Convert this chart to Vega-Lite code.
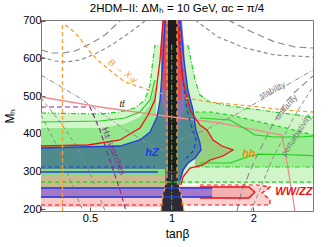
{
 "$schema": "https://vega.github.io/schema/vega-lite/v6.json",
 "width": 272, "height": 191,
 "autosize": {"type": "none"},
 "padding": {"left": 41, "top": 20, "right": 19, "bottom": 36},
 "background": "white",
 "title": {"text": "2HDM–II: ΔMₕ = 10 GeV, αc = π/4", "fontSize": 11.5, "font": "Liberation Sans", "fontWeight": "normal", "offset": 0, "anchor": "middle", "color": "black"},
 "config": {
  "view": {"stroke": "#7a7a7a", "strokeWidth": 1},
  "axis": {"grid": false, "domain": false, "labelFont": "Liberation Sans", "labelFontSize": 11, "labelColor": "black", "labelOverlap": false, "titleFont": "Liberation Sans", "titleFontSize": 12, "titleFontWeight": "normal", "titleColor": "black", "tickColor": "#555", "tickSize": -4, "labelPadding": 4}
 },
 "datasets": {"d": [
  {"g":"lg","t":0.330,"hi":455.1,"lo":269.3},{"g":"lg","t":0.544,"hi":452.5,"lo":269.3},{"g":"lg","t":0.645,"hi":457.8,"lo":269.3},{"g":"lg","t":0.732,"hi":468.4,"lo":269.3},{"g":"lg","t":0.797,"hi":489.6,"lo":269.3},{"g":"lg","t":0.832,"hi":529.5,"lo":269.3},{"g":"lg","t":0.853,"hi":595.8,"lo":269.3},{"g":"lg","t":0.868,"hi":635.6,"lo":269.3},{"g":"lg","t":1.148,"hi":635.6,"lo":269.3},{"g":"lg","t":1.178,"hi":595.8,"lo":269.3},{"g":"lg","t":1.219,"hi":542.7,"lo":269.3},{"g":"lg","t":1.271,"hi":502.9,"lo":269.3},{"g":"lg","t":1.384,"hi":484.3,"lo":269.3},{"g":"lg","t":1.640,"hi":473.7,"lo":269.3},{"g":"lg","t":2.113,"hi":463.1,"lo":269.3},{"g":"lg","t":2.727,"hi":452.5,"lo":269.3},{"g":"lg","t":3.317,"hi":444.5,"lo":269.3},
  {"g":"mgL","t":0.330,"hi":415.3,"lo":300},{"g":"mgL","t":0.544,"hi":415.3,"lo":300},{"g":"mgL","t":0.673,"hi":426,"lo":300},{"g":"mgL","t":0.764,"hi":444.5,"lo":300},{"g":"mgL","t":0.832,"hi":476.4,"lo":300},{"g":"mgL","t":0.875,"hi":529.5,"lo":300},
  {"g":"mgR","t":1.219,"hi":457.8,"lo":311.8},{"g":"mgR","t":1.384,"hi":457.8,"lo":311.8},{"g":"mgR","t":1.640,"hi":449.8,"lo":311.8},{"g":"mgR","t":2.113,"hi":431.2,"lo":311.8},{"g":"mgR","t":2.727,"hi":412.7,"lo":311.8},{"g":"mgR","t":3.317,"hi":396.7,"lo":311.8},
  {"g":"ol","t":1.219,"hi":436.5,"lo":314.4},{"g":"ol","t":1.271,"hi":423.3,"lo":314.4},{"g":"ol","t":1.349,"hi":410,"lo":322.4},{"g":"ol","t":1.420,"hi":383.5,"lo":327.7},{"g":"ol","t":1.532,"hi":367.5,"lo":338.3},{"g":"ol","t":1.682,"hi":356.9,"lo":356.9},
  {"g":"teal","t":0.330,"hi":362.2,"lo":306.5},{"g":"teal","t":0.645,"hi":367.5,"lo":306.5},{"g":"teal","t":0.764,"hi":383.5,"lo":306.5},{"g":"teal","t":0.832,"hi":404.7,"lo":306.5},{"g":"teal","t":0.883,"hi":444.5,"lo":306.5},{"g":"teal","t":0.906,"hi":489.6,"lo":298.5},{"g":"teal","t":0.929,"hi":595.8,"lo":264},{"g":"teal","t":0.945,"hi":702,"lo":264},{"g":"teal","t":1.073,"hi":702,"lo":264},{"g":"teal","t":1.082,"hi":649,"lo":277.3},{"g":"teal","t":1.110,"hi":595.8,"lo":303.8},{"g":"teal","t":1.148,"hi":516.2,"lo":319.8},{"g":"teal","t":1.198,"hi":463.1,"lo":330.4},{"g":"teal","t":1.229,"hi":410,"lo":335.7},{"g":"teal","t":1.271,"hi":375.5,"lo":351.6},{"g":"teal","t":1.282,"hi":356.9,"lo":356.9},
  {"g":"gs","t":0.330,"hi":306.5,"lo":287.9},{"g":"gs","t":0.945,"hi":306.5,"lo":287.9},
  {"g":"tan","t":0.330,"hi":287.9,"lo":258.7},{"g":"tan","t":0.945,"hi":287.9,"lo":258.7},
  {"g":"pinkL","t":0.330,"hi":229.5,"lo":205.6},{"g":"pinkL","t":1.073,"hi":229.5,"lo":205.6},
  {"g":"pur","t":0.330,"hi":258.7,"lo":229.5},{"g":"pur","t":1.41,"hi":258.7,"lo":229.5},
  {"g":"pinkR","m":262,"tl":1.073,"tr":2.302},{"g":"pinkR","m":251,"tl":1.073,"tr":2.302},{"g":"pinkR","m":243,"tl":1.073,"tr":2.15},{"g":"pinkR","m":230,"tl":1.073,"tr":2.302},{"g":"pinkR","m":210.9,"tl":1.073,"tr":2.302},
  {"g":"dpink","m":258.7,"tl":1.073,"tr":1.925},{"g":"dpink","m":245.4,"tl":1.073,"tr":2.026},{"g":"dpink","m":229.5,"tl":1.073,"tr":1.925},
  {"g":"fun","m":702,"tl":0.929,"tr":1.091},{"g":"fun","m":635.6,"tl":0.913,"tr":1.110},{"g":"fun","m":569.3,"tl":0.913,"tr":1.119},{"g":"fun","m":489.6,"tl":0.921,"tr":1.119},{"g":"fun","m":436.5,"tl":0.945,"tr":1.082},{"g":"fun","m":410,"tl":0.961,"tr":1.055},
  {"g":"redL","m":702,"tl":0.929,"tr":0.961},{"g":"redL","m":595.8,"tl":0.921,"tr":0.961},{"g":"redL","m":516.2,"tl":0.929,"tr":0.969},
  {"g":"redR","m":702,"tl":1.046,"tr":1.082},{"g":"redR","m":595.8,"tl":1.046,"tr":1.091},{"g":"redR","m":489.6,"tl":1.046,"tr":1.091},
  {"g":"blk","m":702,"tl":0.969,"tr":1.046},{"g":"blk","m":300,"tl":0.969,"tr":1.046},
  {"g":"dtrap","m":300,"tl":0.969,"tr":1.046},{"g":"dtrap","m":277,"tl":0.953,"tr":1.055},{"g":"dtrap","m":237.5,"tl":0.929,"tr":1.082},{"g":"dtrap","m":195,"tl":0.913,"tr":1.110},

  {"g":"ga1","o":1,"t":0.330,"m":622.4},{"g":"ga1","o":2,"t":0.362,"m":614.4},{"g":"ga1","o":3,"t":0.398,"m":614.4},{"g":"ga1","o":4,"t":0.440,"m":619.7},{"g":"ga1","o":5,"t":0.5,"m":638.3},{"g":"ga1","o":6,"t":0.568,"m":662.2},{"g":"ga1","o":7,"t":0.651,"m":702},
  {"g":"ga2","o":1,"t":0.330,"m":603.8},{"g":"ga2","o":2,"t":0.372,"m":593.2},{"g":"ga2","o":3,"t":0.408,"m":590.5},{"g":"ga2","o":4,"t":0.459,"m":595.8},{"g":"ga2","o":5,"t":0.522,"m":611.7},{"g":"ga2","o":6,"t":0.592,"m":633},{"g":"ga2","o":7,"t":0.673,"m":659.5},{"g":"ga2","o":8,"t":0.764,"m":688.7},{"g":"ga2","o":9,"t":0.804,"m":702},
  {"g":"gb1","o":1,"t":1.612,"m":702},{"g":"gb1","o":2,"t":1.976,"m":670.1},{"g":"gb1","o":3,"t":2.401,"m":643.6},{"g":"gb1","o":4,"t":2.845,"m":630.3},{"g":"gb1","o":5,"t":3.317,"m":627.7},
  {"g":"gb2","o":1,"t":1.219,"m":702},{"g":"gb2","o":2,"t":1.481,"m":656.9},{"g":"gb2","o":3,"t":1.862,"m":627.7},{"g":"gb2","o":4,"t":2.401,"m":609.1},{"g":"gb2","o":5,"t":3.317,"m":603.8},
  {"g":"gs1","o":1,"t":1.073,"m":383.5},{"g":"gs1","o":2,"t":1.327,"m":410},{"g":"gs1","o":3,"t":1.711,"m":449.8},{"g":"gs1","o":4,"t":2.401,"m":510.9},{"g":"gs1","o":5,"t":3.317,"m":569.3},
  {"g":"gs2","o":1,"t":0.330,"m":556},{"g":"gs2","o":2,"t":0.459,"m":494.9},{"g":"gs2","o":3,"t":0.651,"m":418},{"g":"gs2","o":4,"t":0.832,"m":370.2},{"g":"gs2","o":5,"t":0.969,"m":351.6},
  {"g":"gl1","o":1,"t":0.330,"m":494.9},{"g":"gl1","o":2,"t":0.388,"m":431.2},{"g":"gl1","o":3,"t":0.451,"m":362.2},{"g":"gl1","o":4,"t":0.513,"m":277.3},{"g":"gl1","o":5,"t":0.568,"m":195},
  {"g":"gl2","o":1,"t":0.330,"m":449.8},{"g":"gl2","o":2,"t":0.381,"m":362.2},{"g":"gl2","o":3,"t":0.422,"m":277.3},{"g":"gl2","o":4,"t":0.471,"m":195},
  {"g":"gu","o":1,"t":1.741,"m":195},{"g":"gu","o":2,"t":1.816,"m":250.7},{"g":"gu","o":3,"t":2.026,"m":330.4},{"g":"gu","o":4,"t":2.302,"m":410},{"g":"gu","o":5,"t":2.613,"m":481.7},{"g":"gu","o":6,"t":2.845,"m":510.9},{"g":"gu","o":7,"t":3.317,"m":553.3},
  {"g":"gp","o":1,"t":1.958,"m":195},{"g":"gp","o":2,"t":2.150,"m":264},{"g":"gp","o":3,"t":2.341,"m":330.4},{"g":"gp","o":4,"t":2.613,"m":396.7},{"g":"gp","o":5,"t":2.845,"m":449.8},{"g":"gp","o":6,"t":3.317,"m":524.1},
  {"g":"ov","o":1,"t":0.396,"m":688.7},{"g":"ov","o":2,"t":0.396,"m":195},
  {"g":"obl","o":1,"t":0.405,"m":688.7},{"g":"obl","o":2,"t":0.429,"m":675.5},{"g":"obl","o":3,"t":0.459,"m":654.2},{"g":"obl","o":4,"t":0.5,"m":617.1},{"g":"obl","o":5,"t":0.544,"m":590.5},{"g":"obl","o":6,"t":0.603,"m":563.9},{"g":"obl","o":7,"t":0.673,"m":537.4},{"g":"obl","o":8,"t":0.764,"m":524.1},{"g":"obl","o":9,"t":0.868,"m":510.9},{"g":"obl","o":10,"t":0.969,"m":502.9},
  {"g":"obr","o":1,"t":1.119,"m":494.9},{"g":"obr","o":2,"t":1.384,"m":484.3},{"g":"obr","o":3,"t":1.942,"m":473.7},{"g":"obr","o":4,"t":2.613,"m":463.1},{"g":"obr","o":5,"t":3.317,"m":457.8},
  {"g":"of1","o":1,"t":0.961,"m":702},{"g":"of1","o":2,"t":0.961,"m":277.3},{"g":"of1","o":3,"t":0.929,"m":237.5},{"g":"of1","o":4,"t":0.913,"m":195},
  {"g":"of2","o":1,"t":1.046,"m":702},{"g":"of2","o":2,"t":1.046,"m":277.3},{"g":"of2","o":3,"t":1.082,"m":237.5},{"g":"of2","o":4,"t":1.110,"m":195},
  {"g":"ph","o":1,"t":0.330,"m":471.1},{"g":"ph","o":2,"t":0.5,"m":471.1},{"g":"ph","o":3,"t":0.544,"m":410},{"g":"ph","o":4,"t":0.592,"m":330.4},{"g":"ph","o":5,"t":0.645,"m":250.7},{"g":"ph","o":6,"t":0.679,"m":195},
  {"g":"sal","o":1,"t":0.330,"m":497.6},{"g":"sal","o":2,"t":0.544,"m":471.1},{"g":"sal","o":3,"t":0.832,"m":452.5},{"g":"sal","o":4,"t":1.073,"m":441.9},{"g":"sal","o":5,"t":1.507,"m":428.6},{"g":"sal","o":6,"t":2.548,"m":396.7},{"g":"sal","o":7,"t":2.613,"m":356.9},{"g":"sal","o":8,"t":2.727,"m":277.3},{"g":"sal","o":9,"t":2.845,"m":195},
  {"g":"rl","o":1,"t":0.330,"m":367.5},{"g":"rl","o":2,"t":0.492,"m":370.2},{"g":"rl","o":3,"t":0.645,"m":383.5},{"g":"rl","o":4,"t":0.764,"m":415.3},{"g":"rl","o":5,"t":0.818,"m":449.8},{"g":"rl","o":6,"t":0.868,"m":489.6},{"g":"rl","o":7,"t":0.906,"m":595.8},{"g":"rl","o":8,"t":0.929,"m":702},
  {"g":"rr","o":1,"t":1.046,"m":702},{"g":"rr","o":2,"t":1.100,"m":542.7},{"g":"rr","o":3,"t":1.168,"m":463.1},{"g":"rr","o":4,"t":1.271,"m":423.3},{"g":"rr","o":5,"t":1.349,"m":410},{"g":"rr","o":6,"t":1.420,"m":383.5},{"g":"rr","o":7,"t":1.532,"m":367.5},{"g":"rr","o":8,"t":1.682,"m":356.9},{"g":"rr","o":9,"t":1.545,"m":341},{"g":"rr","o":10,"t":1.384,"m":330.4},{"g":"rr","o":11,"t":1.304,"m":317.1},{"g":"rr","o":12,"t":1.168,"m":309.1},{"g":"rr","o":13,"t":1.100,"m":285.2},{"g":"rr","o":14,"t":1.082,"m":264},
  {"g":"rdb","o":1,"t":0.330,"m":210.9},{"g":"rdb","o":2,"t":0.945,"m":210.9},
  {"g":"rdr","o":1,"t":1.073,"m":210.9},{"g":"rdr","o":2,"t":2.302,"m":210.9},{"g":"rdr","o":3,"t":2.302,"m":224.2},{"g":"rdr","o":4,"t":2.150,"m":242.8},{"g":"rdr","o":5,"t":2.302,"m":258.7},{"g":"rdr","o":6,"t":2.078,"m":264},{"g":"rdr","o":7,"t":1.271,"m":264},
  {"g":"rsp","o":1,"t":1.271,"m":258.7},{"g":"rsp","o":2,"t":1.925,"m":258.7},{"g":"rsp","o":3,"t":2.026,"m":245.4},{"g":"rsp","o":4,"t":1.925,"m":229.5},{"g":"rsp","o":5,"t":1.271,"m":229.5},
  {"g":"br","o":1,"t":1.073,"m":702},{"g":"br","o":2,"t":1.110,"m":595.8},{"g":"br","o":3,"t":1.148,"m":516.2},{"g":"br","o":4,"t":1.198,"m":463.1},{"g":"br","o":5,"t":1.229,"m":410},{"g":"br","o":6,"t":1.271,"m":375.5},{"g":"br","o":7,"t":1.282,"m":356.9},{"g":"br","o":8,"t":1.219,"m":335.7},{"g":"br","o":9,"t":1.148,"m":322.4},{"g":"br","o":10,"t":1.100,"m":303.8},{"g":"br","o":11,"t":1.073,"m":277.3},
  {"g":"bl","o":1,"t":0.330,"m":362.2},{"g":"bl","o":2,"t":0.645,"m":367.5},{"g":"bl","o":3,"t":0.764,"m":383.5},{"g":"bl","o":4,"t":0.832,"m":404.7},{"g":"bl","o":5,"t":0.883,"m":444.5},{"g":"bl","o":6,"t":0.906,"m":489.6},{"g":"bl","o":7,"t":0.929,"m":595.8},{"g":"bl","o":8,"t":0.945,"m":702},
  {"g":"bdr","o":1,"t":1.064,"m":702},{"g":"bdr","o":2,"t":1.082,"m":595.8},{"g":"bdr","o":3,"t":1.110,"m":516.2},{"g":"bdr","o":4,"t":1.139,"m":463.1},{"g":"bdr","o":5,"t":1.188,"m":415.3},{"g":"bdr","o":6,"t":1.229,"m":383.5},{"g":"bdr","o":7,"t":1.208,"m":356.9},{"g":"bdr","o":8,"t":1.168,"m":343.6},{"g":"bdr","o":9,"t":1.110,"m":330.4},
  {"g":"bb1","o":1,"t":0.330,"m":298.5},{"g":"bb1","o":2,"t":0.890,"m":298.5},
  {"g":"bb2","o":1,"t":0.330,"m":311.8},{"g":"bb2","o":2,"t":0.868,"m":311.8},
  {"g":"bb3","o":1,"t":0.330,"m":256},{"g":"bb3","o":2,"t":1.41,"m":256},
  {"g":"bb4","o":1,"t":0.330,"m":232.2},{"g":"bb4","o":2,"t":1.41,"m":232.2},
  {"g":"gd1","o":1,"t":0.330,"m":271.9},{"g":"gd1","o":2,"t":3.317,"m":271.9},
  {"g":"gd2L","o":1,"t":0.330,"m":455.1},{"g":"gd2L","o":2,"t":0.544,"m":452.5},{"g":"gd2L","o":3,"t":0.645,"m":457.8},{"g":"gd2L","o":4,"t":0.732,"m":468.4},{"g":"gd2L","o":5,"t":0.797,"m":489.6},{"g":"gd2L","o":6,"t":0.832,"m":529.5},{"g":"gd2L","o":7,"t":0.853,"m":595.8},{"g":"gd2L","o":8,"t":0.868,"m":635.6},
  {"g":"gd2R","o":1,"t":1.148,"m":635.6},{"g":"gd2R","o":2,"t":1.178,"m":595.8},{"g":"gd2R","o":3,"t":1.219,"m":542.7},{"g":"gd2R","o":4,"t":1.271,"m":502.9},{"g":"gd2R","o":5,"t":1.384,"m":484.3},{"g":"gd2R","o":6,"t":1.640,"m":473.7},{"g":"gd2R","o":7,"t":2.113,"m":463.1},{"g":"gd2R","o":8,"t":2.727,"m":452.5},{"g":"gd2R","o":9,"t":3.317,"m":444.5},
  {"g":"gd3","o":1,"t":0.330,"m":431.2},{"g":"gd3","o":2,"t":0.544,"m":433.9},{"g":"gd3","o":3,"t":0.673,"m":441.9},{"g":"gd3","o":4,"t":0.764,"m":457.8},{"g":"gd3","o":5,"t":0.832,"m":489.6},{"g":"gd3","o":6,"t":0.868,"m":542.7},
  {"g":"gd4","o":1,"t":1.219,"m":457.8},{"g":"gd4","o":2,"t":1.384,"m":457.8},{"g":"gd4","o":3,"t":1.640,"m":449.8},{"g":"gd4","o":4,"t":2.113,"m":431.2},{"g":"gd4","o":5,"t":2.727,"m":412.7},{"g":"gd4","o":6,"t":3.317,"m":396.7},
  {"g":"gd5","o":1,"t":1.219,"m":311.8},{"g":"gd5","o":2,"t":3.317,"m":311.8},
  {"g":"gd6","o":1,"t":1.271,"m":441.9},{"g":"gd6","o":2,"t":1.640,"m":436.5},{"g":"gd6","o":3,"t":1.897,"m":410},{"g":"gd6","o":4,"t":2.026,"m":396.7},{"g":"gd6","o":5,"t":2.401,"m":391.4},{"g":"gd6","o":6,"t":2.969,"m":391.4},{"g":"gd6","o":7,"t":3.317,"m":394},
  {"g":"gd7","o":1,"t":1.271,"m":322.4},{"g":"gd7","o":2,"t":1.640,"m":322.4},{"g":"gd7","o":3,"t":1.925,"m":340},{"g":"gd7","o":4,"t":2.113,"m":346},{"g":"gd7","o":5,"t":2.548,"m":345},{"g":"gd7","o":6,"t":3.317,"m":342},
  {"g":"gc","o":1,"t":1.0,"m":636},{"g":"gc","o":2,"t":1.0,"m":195},

  {"g":"lab","k":"bxs","t":0.661,"m":566.6,"label":"B → Xₛγ"},
  {"g":"lab","k":"tt","t":0.656,"m":479,"label":"tt̄"},
  {"g":"lab","k":"hpm","t":0.613,"m":354,"label":"H± searches"},
  {"g":"lab","k":"hz","t":0.846,"m":349,"label":"hZ"},
  {"g":"lab","k":"hh","t":1.925,"m":346,"label":"hh"},
  {"g":"lab","k":"ww","t":2.82,"m":245,"label":"WW/ZZ"},
  {"g":"lab","k":"stab","t":2.341,"m":516.2,"label":"stability"},
  {"g":"lab","k":"uni","t":2.635,"m":471.1,"label":"unitarity"},
  {"g":"lab","k":"pert","t":2.869,"m":396.7,"label":"perturbativity"}
 ]},
 "data": {"name": "d"},
 "layer": [
  {"transform":[{"filter":"datum.g=='lg'"}],"mark":{"type":"area","color":"#cff5c8","opacity":1,"clip":true},
   "encoding":{
    "x":{"field":"t","type":"quantitative","scale":{"type":"log","domain":[0.33,3.317],"nice":false},"axis":{"values":[0.5,1,2],"format":"~g","title":"tanβ","titlePadding":5,"labelPadding":5,"labelOverlap":false}},
    "y":{"field":"hi","type":"quantitative","scale":{"domain":[195,702],"nice":false,"zero":false},"axis":{"values":[200,300,400,500,600,700],"tickCount":6,"labelOverlap":false,"title":"Mₕ","titlePadding":6}},
    "y2":{"field":"lo"}}},
  {"transform":[{"filter":"datum.g=='mgL'"}],"mark":{"type":"area","color":"#93e78c","clip":true},"encoding":{"x":{"field":"t","type":"quantitative"},"y":{"field":"hi","type":"quantitative"},"y2":{"field":"lo"}}},
  {"transform":[{"filter":"datum.g=='mgR'"}],"mark":{"type":"area","color":"#9deb95","clip":true},"encoding":{"x":{"field":"t","type":"quantitative"},"y":{"field":"hi","type":"quantitative"},"y2":{"field":"lo"}}},
  {"transform":[{"filter":"datum.g=='ol'"}],"mark":{"type":"area","color":"#98cf7e","clip":true},"encoding":{"x":{"field":"t","type":"quantitative"},"y":{"field":"hi","type":"quantitative"},"y2":{"field":"lo"}}},
  {"transform":[{"filter":"datum.g=='teal'"}],"mark":{"type":"area","color":"#4f8b8d","clip":true},"encoding":{"x":{"field":"t","type":"quantitative"},"y":{"field":"hi","type":"quantitative"},"y2":{"field":"lo"}}},
  {"transform":[{"filter":"datum.g=='gs'"}],"mark":{"type":"area","color":"#8bd983","clip":true},"encoding":{"x":{"field":"t","type":"quantitative"},"y":{"field":"hi","type":"quantitative"},"y2":{"field":"lo"}}},
  {"transform":[{"filter":"datum.g=='tan'"}],"mark":{"type":"area","color":"#c9b98e","clip":true},"encoding":{"x":{"field":"t","type":"quantitative"},"y":{"field":"hi","type":"quantitative"},"y2":{"field":"lo"}}},
  {"transform":[{"filter":"datum.g=='pinkL'"}],"mark":{"type":"area","color":"#f9c9c9","clip":true},"encoding":{"x":{"field":"t","type":"quantitative"},"y":{"field":"hi","type":"quantitative"},"y2":{"field":"lo"}}},
  {"transform":[{"filter":"datum.g=='pinkR'"}],"mark":{"type":"area","orient":"horizontal","color":"#fad0d0","clip":true},"encoding":{"y":{"field":"m","type":"quantitative"},"x":{"field":"tl","type":"quantitative"},"x2":{"field":"tr"}}},
  {"transform":[{"filter":"datum.g=='dpink'"}],"mark":{"type":"area","orient":"horizontal","color":"#f5b0b0","clip":true},"encoding":{"y":{"field":"m","type":"quantitative"},"x":{"field":"tl","type":"quantitative"},"x2":{"field":"tr"}}},
  {"transform":[{"filter":"datum.g=='pur'"}],"mark":{"type":"area","color":"#a678c6","clip":true},"encoding":{"x":{"field":"t","type":"quantitative"},"y":{"field":"hi","type":"quantitative"},"y2":{"field":"lo"}}},
  {"transform":[{"filter":"datum.g=='fun'"}],"mark":{"type":"area","orient":"horizontal","color":"#8a72ae","clip":true},"encoding":{"y":{"field":"m","type":"quantitative"},"x":{"field":"tl","type":"quantitative"},"x2":{"field":"tr"}}},
  {"transform":[{"filter":"datum.g=='redL'"}],"mark":{"type":"area","orient":"horizontal","color":"#dc4b5a","clip":true},"encoding":{"y":{"field":"m","type":"quantitative"},"x":{"field":"tl","type":"quantitative"},"x2":{"field":"tr"}}},
  {"transform":[{"filter":"datum.g=='redR'"}],"mark":{"type":"area","orient":"horizontal","color":"#dc4b5a","clip":true},"encoding":{"y":{"field":"m","type":"quantitative"},"x":{"field":"tl","type":"quantitative"},"x2":{"field":"tr"}}},
  {"transform":[{"filter":"datum.g=='blk'"}],"mark":{"type":"area","orient":"horizontal","color":"#1c1c1c","clip":true},"encoding":{"y":{"field":"m","type":"quantitative"},"x":{"field":"tl","type":"quantitative"},"x2":{"field":"tr"}}},
  {"transform":[{"filter":"datum.g=='dtrap'"}],"mark":{"type":"area","orient":"horizontal","color":"#2f2a38","clip":true},"encoding":{"y":{"field":"m","type":"quantitative"},"x":{"field":"tl","type":"quantitative"},"x2":{"field":"tr"}}},

  {"transform":[{"filter":"datum.g=='ga1'"}],"mark":{"type":"line","color":"#8c8c8c","strokeWidth":1.2,"strokeDash":[7,4],"clip":true},"encoding":{"x":{"field":"t","type":"quantitative"},"y":{"field":"m","type":"quantitative"},"order":{"field":"o"}}},
  {"transform":[{"filter":"datum.g=='ga2'"}],"mark":{"type":"line","color":"#8c8c8c","strokeWidth":1.2,"strokeDash":[4,3],"clip":true},"encoding":{"x":{"field":"t","type":"quantitative"},"y":{"field":"m","type":"quantitative"},"order":{"field":"o"}}},
  {"transform":[{"filter":"datum.g=='gb1'"}],"mark":{"type":"line","color":"#8c8c8c","strokeWidth":1.2,"strokeDash":[7,4],"clip":true},"encoding":{"x":{"field":"t","type":"quantitative"},"y":{"field":"m","type":"quantitative"},"order":{"field":"o"}}},
  {"transform":[{"filter":"datum.g=='gb2'"}],"mark":{"type":"line","color":"#8c8c8c","strokeWidth":1.2,"strokeDash":[4,3],"clip":true},"encoding":{"x":{"field":"t","type":"quantitative"},"y":{"field":"m","type":"quantitative"},"order":{"field":"o"}}},
  {"transform":[{"filter":"datum.g=='gs1' || datum.g=='gs2'"}],"mark":{"type":"line","color":"#8c8c8c","strokeWidth":1,"strokeDash":[5,2,1,2],"clip":true},"encoding":{"x":{"field":"t","type":"quantitative"},"y":{"field":"m","type":"quantitative"},"detail":{"field":"g"},"order":{"field":"o"}}},
  {"transform":[{"filter":"datum.g=='gl1' || datum.g=='gl2' || datum.g=='gp'"}],"mark":{"type":"line","color":"#8c8c8c","strokeWidth":1,"strokeDash":[4,3],"clip":true},"encoding":{"x":{"field":"t","type":"quantitative"},"y":{"field":"m","type":"quantitative"},"detail":{"field":"g"},"order":{"field":"o"}}},
  {"transform":[{"filter":"datum.g=='gu'"}],"mark":{"type":"line","color":"#8c8c8c","strokeWidth":1.1,"strokeDash":[7,4],"clip":true},"encoding":{"x":{"field":"t","type":"quantitative"},"y":{"field":"m","type":"quantitative"},"order":{"field":"o"}}},
  {"transform":[{"filter":"datum.g=='sal'"}],"mark":{"type":"line","color":"#f28b8b","strokeWidth":1.3,"clip":true},"encoding":{"x":{"field":"t","type":"quantitative"},"y":{"field":"m","type":"quantitative"},"order":{"field":"o"}}},
  {"transform":[{"filter":"datum.g=='gd1' || datum.g=='gd4'"}],"mark":{"type":"line","color":"#22d022","strokeWidth":1.2,"strokeDash":[4,3],"clip":true},"encoding":{"x":{"field":"t","type":"quantitative"},"y":{"field":"m","type":"quantitative"},"detail":{"field":"g"},"order":{"field":"o"}}},
  {"transform":[{"filter":"datum.g=='gd2L' || datum.g=='gd2R' || datum.g=='gd5'"}],"mark":{"type":"line","color":"#22d022","strokeWidth":1.2,"strokeDash":[5,2,1,2],"clip":true},"encoding":{"x":{"field":"t","type":"quantitative"},"y":{"field":"m","type":"quantitative"},"detail":{"field":"g"},"order":{"field":"o"}}},
  {"transform":[{"filter":"datum.g=='gd3' || datum.g=='gd6' || datum.g=='gd7'"}],"mark":{"type":"line","color":"#22d022","strokeWidth":1.2,"clip":true},"encoding":{"x":{"field":"t","type":"quantitative"},"y":{"field":"m","type":"quantitative"},"detail":{"field":"g"},"order":{"field":"o"}}},
  {"transform":[{"filter":"datum.g=='gc'"}],"mark":{"type":"line","color":"#22d022","strokeWidth":1.2,"strokeDash":[5,2,1,2],"clip":true},"encoding":{"x":{"field":"t","type":"quantitative"},"y":{"field":"m","type":"quantitative"},"order":{"field":"o"}}},
  {"transform":[{"filter":"datum.g=='bl' || datum.g=='br' || datum.g=='bb1' || datum.g=='bb3' || datum.g=='bb4'"}],"mark":{"type":"line","color":"#1f3fe0","strokeWidth":1.3,"clip":true},"encoding":{"x":{"field":"t","type":"quantitative"},"y":{"field":"m","type":"quantitative"},"detail":{"field":"g"},"order":{"field":"o"}}},
  {"transform":[{"filter":"datum.g=='bdr' || datum.g=='bb2'"}],"mark":{"type":"line","color":"#1f3fe0","strokeWidth":1.2,"strokeDash":[4,3],"clip":true},"encoding":{"x":{"field":"t","type":"quantitative"},"y":{"field":"m","type":"quantitative"},"detail":{"field":"g"},"order":{"field":"o"}}},
  {"transform":[{"filter":"datum.g=='rl' || datum.g=='rr' || datum.g=='rsp'"}],"mark":{"type":"line","color":"#ee1111","strokeWidth":1.3,"clip":true},"encoding":{"x":{"field":"t","type":"quantitative"},"y":{"field":"m","type":"quantitative"},"detail":{"field":"g"},"order":{"field":"o"}}},
  {"transform":[{"filter":"datum.g=='rdb' || datum.g=='rdr'"}],"mark":{"type":"line","color":"#ee1111","strokeWidth":1.2,"strokeDash":[4,3],"clip":true},"encoding":{"x":{"field":"t","type":"quantitative"},"y":{"field":"m","type":"quantitative"},"detail":{"field":"g"},"order":{"field":"o"}}},
  {"transform":[{"filter":"datum.g=='ph'"}],"mark":{"type":"line","color":"#8e2b8e","strokeWidth":1.2,"strokeDash":[5,3],"clip":true},"encoding":{"x":{"field":"t","type":"quantitative"},"y":{"field":"m","type":"quantitative"},"order":{"field":"o"}}},
  {"transform":[{"filter":"datum.g=='ov' || datum.g=='obl' || datum.g=='obr' || datum.g=='of1' || datum.g=='of2'"}],"mark":{"type":"line","color":"#f7a032","strokeWidth":1.3,"strokeDash":[4,3],"clip":true},"encoding":{"x":{"field":"t","type":"quantitative"},"y":{"field":"m","type":"quantitative"},"detail":{"field":"g"},"order":{"field":"o"}}},

  {"transform":[{"filter":"datum.k=='bxs'"}],"mark":{"type":"text","color":"#f7a032","font":"Liberation Sans","fontSize":9,"fontStyle":"italic","angle":36},"encoding":{"x":{"field":"t","type":"quantitative"},"y":{"field":"m","type":"quantitative"},"text":{"field":"label"}}},
  {"transform":[{"filter":"datum.k=='tt'"}],"mark":{"type":"text","color":"#222","font":"Liberation Sans","fontSize":9,"fontStyle":"italic"},"encoding":{"x":{"field":"t","type":"quantitative"},"y":{"field":"m","type":"quantitative"},"text":{"field":"label"}}},
  {"transform":[{"filter":"datum.k=='hpm'"}],"mark":{"type":"text","color":"#8e2b8e","font":"Liberation Sans","fontSize":9,"angle":68},"encoding":{"x":{"field":"t","type":"quantitative"},"y":{"field":"m","type":"quantitative"},"text":{"field":"label"}}},
  {"transform":[{"filter":"datum.k=='hz'"}],"mark":{"type":"text","color":"#1f3fe0","font":"Liberation Sans","fontSize":11,"fontStyle":"italic","fontWeight":"bold"},"encoding":{"x":{"field":"t","type":"quantitative"},"y":{"field":"m","type":"quantitative"},"text":{"field":"label"}}},
  {"transform":[{"filter":"datum.k=='hh'"}],"mark":{"type":"text","color":"#f08c00","font":"Liberation Sans","fontSize":11,"fontStyle":"italic","fontWeight":"bold"},"encoding":{"x":{"field":"t","type":"quantitative"},"y":{"field":"m","type":"quantitative"},"text":{"field":"label"}}},
  {"transform":[{"filter":"datum.k=='ww'"}],"mark":{"type":"text","color":"#ee1111","font":"Liberation Sans","fontSize":11,"fontStyle":"italic","fontWeight":"bold"},"encoding":{"x":{"field":"t","type":"quantitative"},"y":{"field":"m","type":"quantitative"},"text":{"field":"label"}}},
  {"transform":[{"filter":"datum.k=='stab'"}],"mark":{"type":"text","color":"#7a7a7a","font":"Liberation Sans","fontSize":8.5,"angle":333},"encoding":{"x":{"field":"t","type":"quantitative"},"y":{"field":"m","type":"quantitative"},"text":{"field":"label"}}},
  {"transform":[{"filter":"datum.k=='uni'"}],"mark":{"type":"text","color":"#7a7a7a","font":"Liberation Sans","fontSize":8.5,"angle":311},"encoding":{"x":{"field":"t","type":"quantitative"},"y":{"field":"m","type":"quantitative"},"text":{"field":"label"}}},
  {"transform":[{"filter":"datum.k=='pert'"}],"mark":{"type":"text","color":"#7a7a7a","font":"Liberation Sans","fontSize":8.5,"angle":303},"encoding":{"x":{"field":"t","type":"quantitative"},"y":{"field":"m","type":"quantitative"},"text":{"field":"label"}}}
 ]
}
